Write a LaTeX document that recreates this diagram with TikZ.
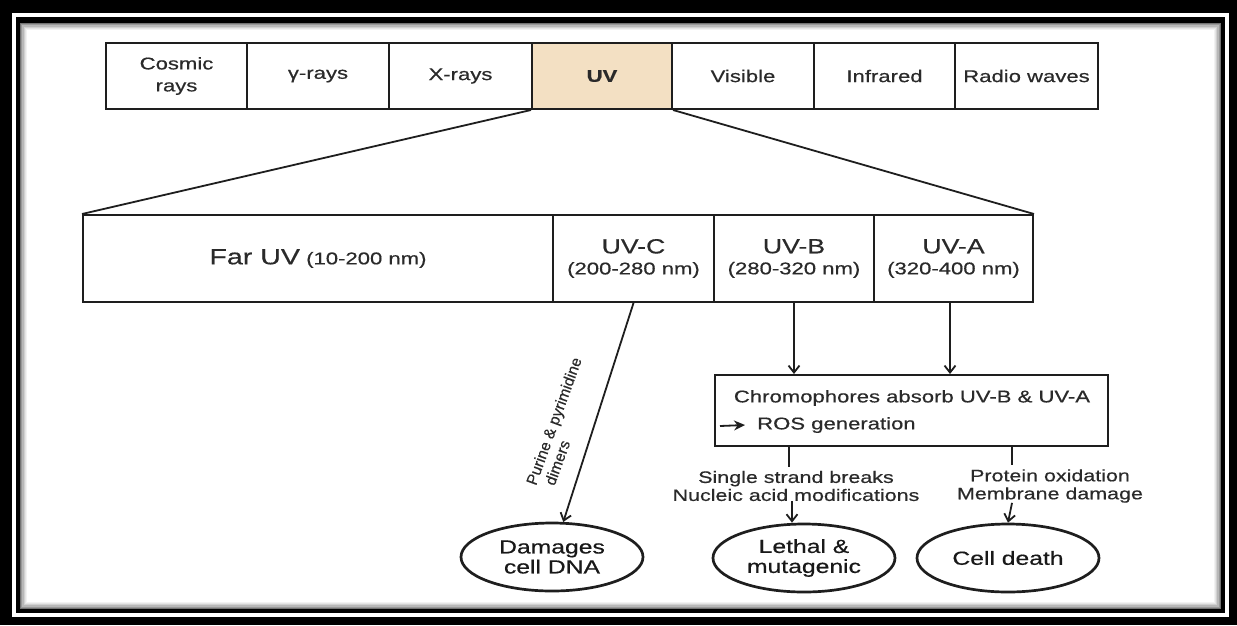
\documentclass[tikz,border=0pt]{standalone}
\usepackage{fontspec}
\setmainfont{Liberation Sans}[FakeStretch=1.3,FakeBold=0.5]
\newfontfamily\labelfont{Liberation Sans}[FakeBold=0.4]
\usetikzlibrary{arrows.meta,shapes.geometric}
\definecolor{uvfill}{HTML}{F3E0C3}
\definecolor{ink}{HTML}{2A2A2A}
\definecolor{rule}{HTML}{1E1E1E}

\begin{document}
\begin{tikzpicture}[x=1pt,y=-1pt,
  box/.style={draw=rule,line width=2pt,inner sep=0pt,align=center,text=ink},
  band/.style={box,minimum height=66pt,font=\fontsize{17}{22}\selectfont},
  uvband/.style={box,minimum height=87pt,font=\fontsize{17}{21}\selectfont},
  oval/.style={draw=rule,line width=2.7pt,ellipse,minimum width=182pt,minimum height=68pt,
    inner sep=0pt,align=center,text=black!90,font=\fontsize{19}{20}\selectfont},
  note/.style={align=center,text=ink,font=\fontsize{16.5}{18}\selectfont,inner sep=0pt},
  link/.style={draw=rule,line width=1.8pt},
  arr/.style={link,-{Straight Barb[length=7pt,width=11pt]}},
]
\useasboundingbox (0,0) rectangle (1237,625);

% double frame with a soft inner shadow
\fill[black] (0,0) rectangle (1237,625);
\fill[white] (12,13) rectangle (1229,617);
\fill[black] (16,17) rectangle (1225,613);
\fill[white] (20,23) rectangle (1221,609);
\foreach \k/\c in {0.6/55,1.8/40,3/28,4.2/18,5.4/10,6.6/5}
  \draw[black!\c,line width=1.3pt] (20+\k,23+\k) rectangle (1221-\k,609-\k);

% electromagnetic spectrum
\node[band,minimum width=141pt] (cosmic) at (176.5,76) {Cosmic\\rays};
\node[band,minimum width=142pt] (gamma)  at (318,76)   {γ-rays};
\node[band,minimum width=143pt] (xray)   at (460.5,76) {X-rays};
\node[band,minimum width=140pt,fill=uvfill] (uv) at (602,76) {\bfseries UV};
\node[band,minimum width=142pt] (vis)    at (743,76)   {Visible};
\node[band,minimum width=141pt] (ir)     at (884.5,76) {Infrared};
\node[band,minimum width=143pt] (radio)  at (1026.5,76) {Radio waves};

% UV sub-bands
\node[uvband,minimum width=470pt] (far) at (318,258.5)
  {{\fontsize{22}{26}\selectfont Far UV} (10-200 nm)};
\node[uvband,minimum width=161pt] (uvc) at (633.5,258.5)
  {{\fontsize{20.5}{21}\selectfont UV-C}\\(200-280 nm)};
\node[uvband,minimum width=160pt] (uvb) at (794,258.5)
  {{\fontsize{20.5}{21}\selectfont UV-B}\\(280-320 nm)};
\node[uvband,minimum width=159pt] (uva) at (953.5,258.5)
  {{\fontsize{20.5}{21}\selectfont UV-A}\\(320-400 nm)};

\draw[link] (uv.south west) -- (far.north west);
\draw[link] (uv.south east) -- (uva.north east);

% chromophore box
\node[box,minimum width=393pt,minimum height=71pt] (chrom) at (911.5,410.5) {};
\node[note,font=\fontsize{17}{20}\selectfont] (chromtxt) at (912,398)
  {Chromophores absorb UV-B \& UV-A};
\node[note,font=\fontsize{17}{20}\selectfont,anchor=west] (ros) at (757,425) {ROS generation};
\coordinate (rosstart) at (720,426);
\draw[link,-{Stealth[length=11pt,width=10pt]}] (rosstart) -- ([xshift=-12pt]ros.west);

\draw[arr] (uvb.south) -- (uvb.south |- chrom.north);
\draw[arr] ([xshift=-3.5pt]uva.south) -- ([xshift=-3.5pt]uva.south |- chrom.north);

% outcomes
\node[oval] (dmg)    at (552,557)  {Damages\\cell DNA};
\node[oval] (lethal) at (804,558)  {Lethal \&\\mutagenic};
\node[oval] (death)  at (1008,558) {Cell death};

\node[note] (ssb)  at (796,486)  {Single strand breaks\\Nucleic acid modifications};
\node[note] (prot) at (1050,486) {Protein oxidation\\Membrane damage};

\draw[link] ([xshift=-7pt]ssb.north |- chrom.south) -- ([xshift=-7pt,yshift=4pt]ssb.north);
\draw[arr] ([xshift=-4pt]ssb.south) -- ([xshift=-4pt]ssb.south |- lethal.north);
\draw[link] ([xshift=-38pt]prot.north |- chrom.south) -- ([xshift=-38pt,yshift=4pt]prot.north);
\draw[arr] ([xshift=-38pt]prot.south) -- (death.north);

\draw[arr] (uvc.south) -- (dmg);
\node[font=\labelfont\fontsize{15.5}{17.5}\selectfont,text=ink,rotate=70,align=left,inner sep=0pt]
  (dimerlbl) at (562,424) {Purine \& pyrimidine\\\hspace*{6pt}dimers};
\end{tikzpicture}
\end{document}
